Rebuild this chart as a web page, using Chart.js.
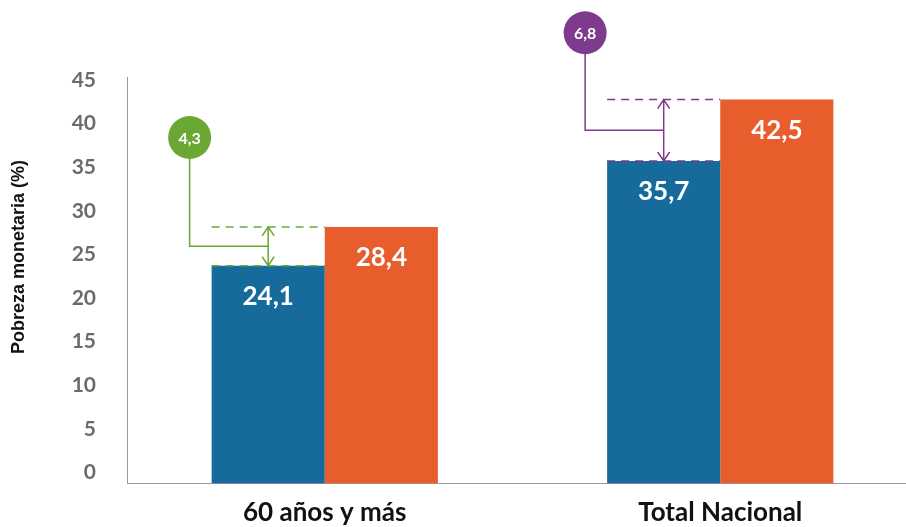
<!DOCTYPE html>
<html>
<head>
<meta charset="utf-8">
<script src="https://cdn.jsdelivr.net/npm/chart.js@4.4.0/dist/chart.umd.min.js"></script>
<style>
  html, body { margin: 0; padding: 0; background: #fff; overflow: hidden; }
  #wrap { width: 918px; height: 527px; }
</style>
</head>
<body>
<div id="wrap"><canvas id="chart" width="918" height="527"></canvas></div>
<script>
// --- data ---
const categories = ['60 años y más', 'Total Nacional'];
const serieA = [24.1, 35.7];   // azul
const serieB = [28.4, 42.5];   // naranja
const yTicks = [0, 5, 10, 15, 20, 25, 30, 35, 40, 45];
const yTitle = 'Pobreza monetaria (%)';

const BLUE = '#176A9C';
const ORANGE = '#E85D2C';
const gapColors = ['#6BA833', '#7E3A8C'];

const fmt = v => v.toFixed(1).replace('.', ',');
const FONT = 'Lato, "Open Sans", sans-serif';

// labels, dashed guides, arrows and bubbles drawn on top of the bars
const gapPlugin = {
    id: 'gapNotes',
    afterDatasetsDraw(chart, args, opts) {
        const ctx = chart.ctx;
        const y = chart.scales.y;
        const mA = chart.getDatasetMeta(0);
        const mB = chart.getDatasetMeta(1);

        // axis title (sits a bit above the plot centre in the source)
        ctx.save();
        ctx.translate(19, 257);
        ctx.rotate(-Math.PI / 2);
        ctx.fillStyle = '#111';
        ctx.font = 'bold 18px "Liberation Sans", Arial, sans-serif';
        ctx.textAlign = 'center';
        ctx.textBaseline = 'middle';
        ctx.fillText(yTitle, 0, 0);
        ctx.restore();

        // value labels inside bars
        ctx.save();
        ctx.fillStyle = '#fff';
        ctx.font = 'bold 26px ' + FONT;
        ctx.textAlign = 'center';
        ctx.textBaseline = 'middle';
        [mA, mB].forEach((m, di) => {
            m.data.forEach((bar, i) => {
                const v = chart.data.datasets[di].data[i];
                ctx.fillText(fmt(v), bar.x, bar.y + 31);
            });
        });
        ctx.restore();

        mA.data.forEach((a, i) => {
            const b = mB.data[i];
            const col = gapColors[i];
            const left = a.x - a.width / 2;
            const right = b.x - b.width / 2;
            const yA = a.y, yB = b.y;
            const diff = serieB[i] - serieA[i];

            ctx.save();
            ctx.strokeStyle = col;
            ctx.lineWidth = 1.5;

            // dashed guides
            ctx.setLineDash([8, 6]);
            ctx.beginPath();
            ctx.moveTo(left, yA); ctx.lineTo(right, yA);
            ctx.moveTo(left, yB); ctx.lineTo(right, yB);
            ctx.stroke();
            ctx.setLineDash([]);

            // double arrow
            const ax = a.x;
            ctx.beginPath();
            ctx.moveTo(ax, yB); ctx.lineTo(ax, yA);
            ctx.moveTo(ax - 6, yB + 9); ctx.lineTo(ax, yB); ctx.lineTo(ax + 6, yB + 9);
            ctx.moveTo(ax - 6, yA - 9); ctx.lineTo(ax, yA); ctx.lineTo(ax + 6, yA - 9);
            ctx.stroke();

            // elbow connector from bubble
            const cx = left - 22;
            const cy = y.getPixelForValue(opts.bubbleAt[i]);
            const ey = y.getPixelForValue((serieA[i] + serieB[i]) / 2);
            ctx.beginPath();
            ctx.moveTo(cx, cy); ctx.lineTo(cx, ey); ctx.lineTo(ax, ey);
            ctx.stroke();

            // bubble
            ctx.fillStyle = col;
            ctx.beginPath();
            ctx.arc(cx, cy, 21.5, 0, Math.PI * 2);
            ctx.fill();
            ctx.fillStyle = '#fff';
            ctx.font = 'bold 16px ' + FONT;
            ctx.textAlign = 'center';
            ctx.textBaseline = 'middle';
            ctx.fillText(fmt(diff), cx, cy + 1);
            ctx.restore();
        });
    }
};

new Chart(document.getElementById('chart'), {
    type: 'bar',
    data: {
        labels: categories,
        datasets: [
            { data: serieA, backgroundColor: BLUE, borderWidth: 0 },
            { data: serieB, backgroundColor: ORANGE, borderWidth: 0 }
        ]
    },
    options: {
        responsive: false,
        animation: false,
        layout: { padding: { top: 77, right: 0, left: 0, bottom: 0 } },
        datasets: { bar: { barPercentage: 1, categoryPercentage: 0.572 } },
        plugins: {
            legend: { display: false },
            tooltip: { enabled: false },
            gapNotes: { bubbleAt: [38.3, 49.9] }
        },
        scales: {
            x: {
                grid: { display: false, drawTicks: false },
                border: { display: true, color: '#9a9a9a', width: 1 },
                ticks: { color: '#111', font: { family: FONT, size: 26, weight: 'bold' }, padding: 14 },
                afterFit: s => { s.height = 43; }
            },
            // bar scale (hidden)
            y: { display: false, min: 0, max: 45 },
            // label scale: tick texts sit slightly off the bar scale, as in the source
            yl: {
                position: 'left',
                min: -1.26, max: 45.34,
                grid: { display: false, drawTicks: false },
                border: { display: true, color: '#9a9a9a', width: 1 },
                afterBuildTicks: s => { s.ticks = yTicks.map(v => ({ value: v })); },
                ticks: { color: '#6b6b6b', font: { family: FONT, size: 21, weight: 'bold' }, padding: 31 },
                afterFit: s => { s.width = 127; }
            }
        }
    },
    plugins: [gapPlugin]
});
</script>
</body>
</html>
